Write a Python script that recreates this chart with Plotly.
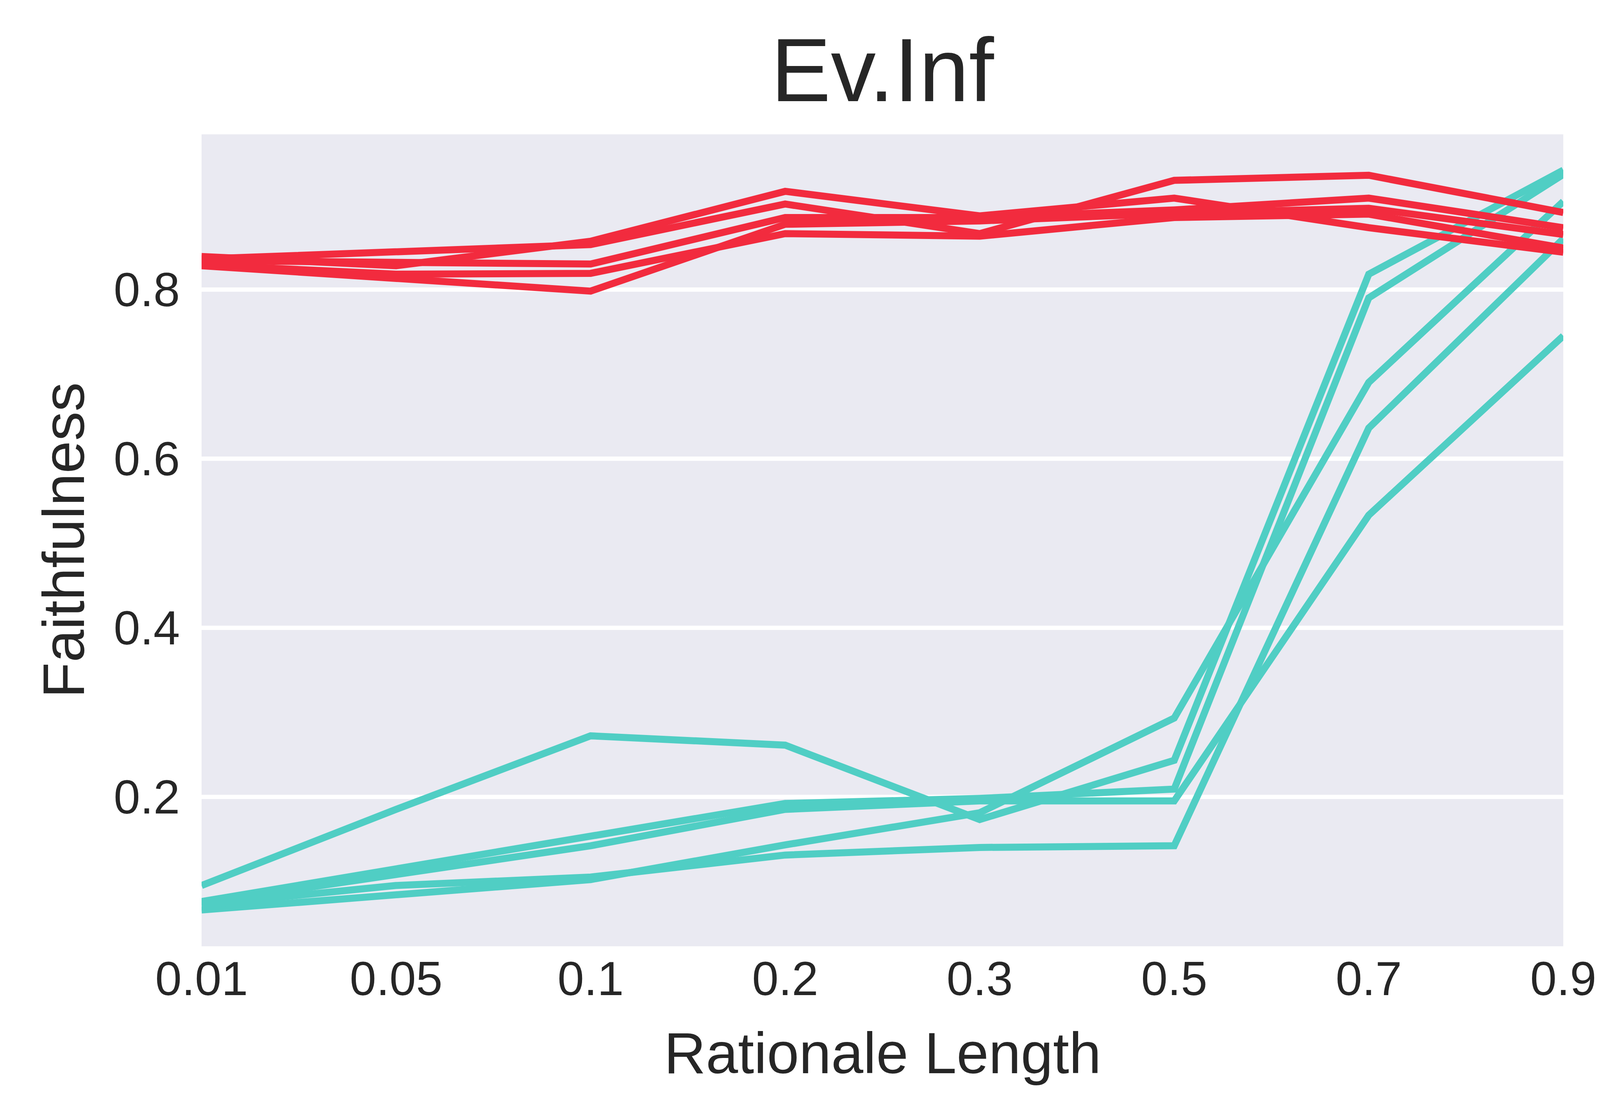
import plotly.graph_objects as go

# ---- data ----
rationale_lengths = ["0.01", "0.05", "0.1", "0.2", "0.3", "0.5", "0.7", "0.9"]
y_tick_values = [0.2, 0.4, 0.6, 0.8]
y_tick_labels = ["0.2", "0.4", "0.6", "0.8"]

# red runs
red_run_a = [0.839, 0.828, 0.857, 0.916, 0.887, 0.908, 0.873, 0.844]
red_run_b = [0.836, 0.845, 0.853, 0.901, 0.866, 0.929, 0.935, 0.891]
red_run_c = [0.834, 0.831, 0.830, 0.885, 0.885, 0.894, 0.908, 0.873]
red_run_d = [0.828, 0.813, 0.798, 0.877, 0.881, 0.890, 0.896, 0.865]
red_run_e = [0.829, 0.818, 0.819, 0.866, 0.863, 0.885, 0.889, 0.849]

# teal runs
teal_run_a = [0.095, 0.185, 0.272, 0.261, 0.173, 0.243, 0.818, 0.941]
teal_run_b = [0.076, 0.115, 0.155, 0.192, 0.198, 0.209, 0.790, 0.936]
teal_run_c = [0.074, 0.107, 0.142, 0.185, 0.195, 0.195, 0.533, 0.745]
teal_run_d = [0.066, 0.083, 0.102, 0.143, 0.181, 0.293, 0.690, 0.904]
teal_run_e = [0.072, 0.095, 0.105, 0.131, 0.140, 0.142, 0.636, 0.860]

red_runs = [red_run_a, red_run_b, red_run_c, red_run_d, red_run_e]
teal_runs = [teal_run_a, teal_run_b, teal_run_c, teal_run_d, teal_run_e]

RED = "#F22B3E"
TEAL = "#50CEC4"
TEXT = "#262626"
FONT = "Liberation Sans, Arial, sans-serif"

W, H = 4173, 2855
L, R, T, B = 508, 179, 336, 440

fig = go.Figure()
for run in teal_runs:
    fig.add_trace(go.Scatter(x=rationale_lengths, y=run, mode="lines",
                             line=dict(color=TEAL, width=18), showlegend=False))
for run in red_runs:
    fig.add_trace(go.Scatter(x=rationale_lengths, y=run, mode="lines",
                             line=dict(color=RED, width=18), showlegend=False))

fig.update_layout(
    width=W, height=H, autosize=False,
    margin=dict(l=L, r=R, t=T, b=B, pad=0),
    paper_bgcolor="white",
    plot_bgcolor="#EAEAF2",
    font=dict(family=FONT, color=TEXT),
    title=dict(text="Ev.Inf", x=0.5, xanchor="center",
               xref="paper", yref="container", y=1 - 170 / H, yanchor="middle",
               font=dict(size=230, color=TEXT, family=FONT)),
)

fig.update_xaxes(
    type="category", categoryorder="array", categoryarray=rationale_lengths,
    range=[0, len(rationale_lengths) - 1],
    showgrid=False, zeroline=False, showline=False,
    ticks="", ticklabelstandoff=2,
    tickfont=dict(size=122, color=TEXT, family=FONT),
)
fig.update_yaxes(
    range=[0.0231, 0.9834],
    tickvals=y_tick_values, ticktext=y_tick_labels,
    showgrid=True, gridcolor="white", gridwidth=11,
    zeroline=False, showline=False,
    ticks="outside", ticklen=30, tickcolor="rgba(0,0,0,0)",
    tickfont=dict(size=122, color=TEXT, family=FONT),
)

plot_w = W - L - R
plot_h = H - T - B
fig.add_annotation(text="Rationale Length", xref="paper", yref="paper",
                   x=0.5, y=-(2688 - (H - B)) / plot_h, xanchor="center", yanchor="middle",
                   showarrow=False, font=dict(size=148, color=TEXT, family=FONT))
fig.add_annotation(text="Faithfulness", xref="paper", yref="paper",
                   x=-(L - 154) / plot_w, y=0.5, xanchor="center", yanchor="middle",
                   textangle=-90, showarrow=False,
                   font=dict(size=150, color=TEXT, family=FONT))

fig.write_html("out.html")
